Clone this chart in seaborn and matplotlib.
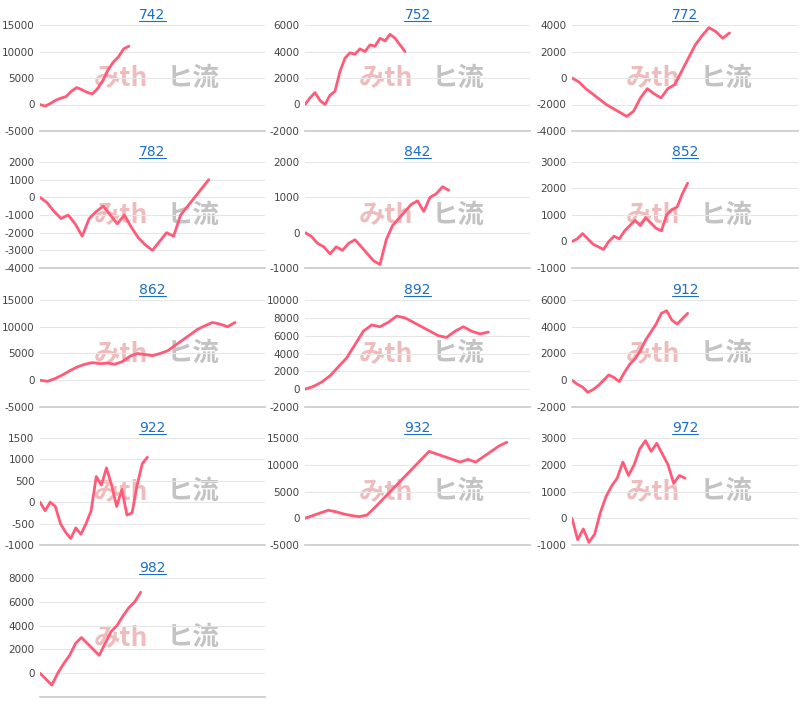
import matplotlib
matplotlib.use("Agg")
import matplotlib.pyplot as plt
import seaborn as sns
import numpy as np
import pandas as pd

sns.set_theme(style="white")
plt.rcParams['font.family'] = ['DejaVu Sans', 'Noto Sans CJK JP']
plt.rcParams['axes.unicode_minus'] = False

titles = ['742', '752', '772', '782', '842', '852', '862', '892', '912', '922', '932', '972', '982']

y742 = [0, -300, 200, 800, 1200, 1500, 2500, 3200, 2800, 2300, 2000, 3000, 4500, 6500, 8000, 9000, 10500, 11000]
y752 = [0, 500, 900, 300, 0, 700, 1000, 2500, 3500, 3900, 3800, 4200, 4000, 4500, 4400, 5000, 4800, 5300, 5000, 4500, 4000]
y772 = [0, -300, -800, -1200, -1600, -2000, -2300, -2600, -2900, -2500, -1500, -800, -1200, -1500, -800, -500,
        500, 1500, 2500, 3200, 3800, 3500, 3000, 3400]
y782 = [0, -300, -800, -1200, -1000, -1500, -2200, -1200, -800, -500, -1000, -1500, -1000, -1700, -2300, -2700,
        -3000, -2500, -2000, -2200, -1000, -500, 0, 500, 1000]
y842 = [0, -100, -300, -400, -600, -400, -500, -300, -200, -400, -600, -800, -900, -200, 200, 400, 600, 800, 900,
        600, 1000, 1100, 1300, 1200]
y852 = [0, 100, 300, 100, -100, -200, -300, 0, 200, 100, 400, 600, 800, 600, 900, 700, 500, 400, 1000, 1200, 1300,
        1800, 2200]
y862 = [0, -200, 300, 1000, 1800, 2500, 3000, 3300, 3100, 3200, 3000, 3500, 4500, 5000, 4800, 4600, 5000, 5500,
        6500, 7500, 8500, 9500, 10200, 10800, 10500, 10000, 10800]
y892 = [0, 300, 800, 1500, 2500, 3500, 5000, 6500, 7200, 7000, 7500, 8200, 8000, 7500, 7000, 6500, 6000, 5800,
        6500, 7000, 6500, 6200, 6400]
y912 = [0, -300, -500, -900, -700, -400, 0, 400, 200, -100, 600, 1200, 1600, 2200, 3000, 3600, 4200, 5000, 5200,
        4500, 4200, 4600, 5000]
y922 = [0, -200, 0, -100, -500, -700, -850, -600, -750, -500, -200, 600, 400, 800, 400, -100, 300, -300, -250, 400,
        900, 1050]
y932 = [0, 500, 1000, 1500, 1200, 800, 500, 300, 600, 2000, 3500, 5000, 6500, 8000, 9500, 11000, 12500, 12000,
        11500, 11000, 10500, 11000, 10500, 11500, 12500, 13500, 14200]
y972 = [0, -800, -400, -900, -600, 200, 800, 1200, 1500, 2100, 1600, 2000, 2600, 2900, 2500, 2800, 2400, 2000,
        1300, 1600, 1500]
y982 = [0, -500, -1000, 0, 800, 1500, 2500, 3000, 2500, 2000, 1500, 2500, 3500, 4000, 4800, 5500, 6000, 6800]

series = [y742, y752, y772, y782, y842, y852, y862, y892, y912, y922, y932, y972, y982]
x_len = [43, 45, 33, 32, 36, 43, 30, 27, 43, 44, 29, 40, 38]
y_ticks = [
    (-5000, 15000, 5000), (-2000, 6000, 2000), (-4000, 4000, 2000),
    (-4000, 2000, 1000), (-1000, 2000, 1000), (-1000, 3000, 1000),
    (-5000, 15000, 5000), (-2000, 10000, 2000), (-2000, 6000, 2000),
    (-1000, 1500, 500), (-5000, 15000, 5000), (-1000, 3000, 1000),
    (0, 8000, 2000),
]

W, H = 800, 708
cols = [(40, 265), (305, 530), (572, 798)]
rows = [(25, 131), (162, 268), (300, 407), (438, 545), (578, 697)]

fig = plt.figure(figsize=(8, 7.08), dpi=100)
axes = []
for i, ys in enumerate(series):
    r, c = divmod(i, 3)
    x0, x1 = cols[c]
    t, b = rows[r]
    ax = fig.add_axes([x0 / W, 1 - b / H, (x1 - x0) / W, (b - t) / H])
    df = pd.DataFrame({'x': np.arange(len(ys)), 'y': ys})
    sns.lineplot(data=df, x='x', y='y', ax=ax, color='#ff5a78', linewidth=2)
    lo, hi, st = y_ticks[i]
    ax.set_yticks(np.arange(lo, hi + 1, st))
    ax.set_ylim(lo if i != 12 else -2000, hi)
    ax.set_xlim(0, x_len[i])
    ax.set_xticks([])
    ax.set_xlabel('')
    ax.set_ylabel('')
    ax.grid(axis='y', color='#e6e6e6', linewidth=0.8)
    ax.set_axisbelow(True)
    for s in ['top', 'right', 'left']:
        ax.spines[s].set_visible(False)
    ax.spines['bottom'].set_color('#cccccc')
    ax.tick_params(axis='y', labelsize=7.5, labelcolor='#444444', length=0, pad=4)
    ax.set_title(titles[i], color='#1a6fc9', fontsize=10, pad=4)
    # watermark
    ax.text(0.36, 0.5, 'みth', transform=ax.transAxes, fontsize=19, fontweight='bold', style='italic',
            color='#e8a0a0', alpha=0.7, ha='center', va='center', family=['Noto Sans CJK JP'], zorder=0)
    ax.text(0.68, 0.5, 'ヒ流', transform=ax.transAxes, fontsize=19, fontweight='bold', style='italic',
            color='#aaaaaa', alpha=0.7, ha='center', va='center', family=['Noto Sans CJK JP'], zorder=0)
    axes.append(ax)

# underline the titles
fig.canvas.draw()
renderer = fig.canvas.get_renderer()
for ax in axes:
    bb = ax.title.get_window_extent(renderer)
    fig.add_artist(plt.Line2D([bb.x0 / W, bb.x1 / W], [(bb.y0 + 1) / H, (bb.y0 + 1) / H],
                              color='#1a6fc9', linewidth=0.8))

fig.savefig('out.png', dpi=100)
